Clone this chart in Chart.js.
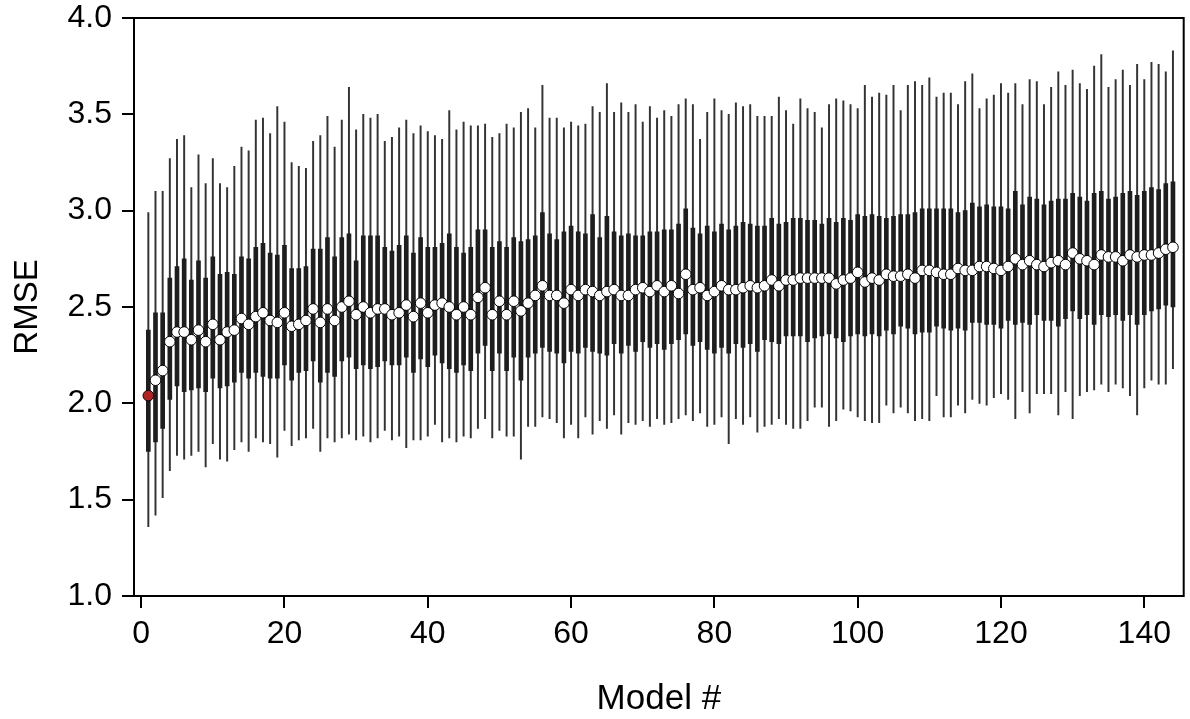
<!DOCTYPE html>
<html>
<head>
<meta charset="utf-8">
<script src="https://cdn.jsdelivr.net/npm/chart.js@4.4.1/dist/chart.umd.min.js"></script>
<style>
html,body{margin:0;padding:0;background:#fff;}
#wrap{width:1190px;height:719px;position:relative;}
</style>
</head>
<body>
<div id="wrap"><canvas id="c" width="1190" height="719"></canvas></div>
<script>
// ---- data ----
const models = Array.from({length:144}, (_, i) => i + 1);
const rmseMax = [
2.99,3.10,3.10,3.27,3.37,3.39,3.12,3.29,3.14,3.27,3.14,3.12,
3.23,3.33,3.31,3.47,3.48,3.40,3.54,3.46,3.25,3.23,3.22,3.36,3.39,
3.49,3.33,3.47,3.64,3.42,3.50,3.48,3.50,3.36,3.38,3.43,3.47,3.40,
3.44,3.41,3.39,3.37,3.52,3.42,3.46,3.44,3.44,3.45,3.38,3.40,3.45,3.43,
3.51,3.53,3.43,3.65,3.48,3.48,3.43,3.46,3.44,3.45,3.54,3.51,3.66,
3.51,3.56,3.51,3.55,3.46,3.54,3.48,3.52,3.49,3.55,3.58,3.55,3.37,
3.51,3.58,3.52,3.50,3.56,3.54,3.55,3.49,3.49,3.49,3.59,3.52,3.45,
3.58,3.53,3.51,3.43,3.55,3.58,3.57,3.55,3.53,3.65,3.59,3.61,3.60,3.65,
3.52,3.65,3.67,3.65,3.69,3.59,3.61,3.61,3.55,3.67,3.71,3.53,3.58,
3.60,3.66,3.61,3.66,3.55,3.68,3.67,3.55,3.64,3.72,3.65,3.73,3.66,
3.63,3.75,3.81,3.64,3.68,3.73,3.65,3.76,3.68,3.77,3.76,3.72,3.83];
const rmseQ3 = [
2.38,2.47,2.47,2.65,2.71,2.75,2.64,2.74,2.65,2.76,2.67,2.68,
2.67,2.76,2.75,2.81,2.83,2.78,2.77,2.82,2.70,2.70,2.71,2.80,2.80,
2.86,2.76,2.86,2.88,2.74,2.87,2.87,2.87,2.81,2.79,2.82,2.87,2.78,
2.86,2.81,2.81,2.83,2.88,2.81,2.78,2.81,2.90,2.90,2.81,2.84,2.81,2.86,
2.84,2.85,2.87,2.99,2.88,2.85,2.89,2.92,2.89,2.88,2.98,2.86,2.97,
2.89,2.87,2.88,2.87,2.87,2.89,2.89,2.90,2.90,2.93,3.01,2.91,2.88,
2.92,2.89,2.93,2.90,2.92,2.94,2.93,2.92,2.92,2.96,2.93,2.94,2.96,
2.96,2.95,2.95,2.93,2.96,2.94,2.96,2.95,2.98,2.97,2.98,2.97,2.96,2.97,
2.98,2.98,2.99,3.01,3.01,3.01,3.01,3.01,2.99,3.00,3.04,3.02,3.03,
3.02,3.02,3.01,3.10,3.03,3.07,3.06,3.03,3.05,3.06,3.06,3.09,3.07,
3.05,3.09,3.10,3.06,3.07,3.09,3.10,3.08,3.10,3.12,3.11,3.14,3.15];
const rmseMedian = [
2.04,2.12,2.17,2.32,2.37,2.37,2.33,2.38,2.32,2.41,2.33,2.37,
2.38,2.44,2.41,2.45,2.47,2.43,2.42,2.47,2.40,2.41,2.43,2.49,2.42,
2.49,2.43,2.50,2.53,2.46,2.50,2.47,2.49,2.49,2.46,2.47,2.51,2.45,
2.52,2.47,2.51,2.52,2.50,2.46,2.50,2.46,2.55,2.60,2.46,2.53,2.46,2.53,
2.48,2.52,2.56,2.61,2.56,2.56,2.52,2.59,2.56,2.59,2.58,2.56,2.58,
2.59,2.56,2.56,2.59,2.60,2.58,2.61,2.58,2.61,2.57,2.67,2.59,2.60,
2.56,2.58,2.61,2.59,2.59,2.60,2.61,2.60,2.61,2.64,2.61,2.64,2.64,
2.65,2.65,2.65,2.65,2.65,2.62,2.64,2.65,2.68,2.63,2.65,2.64,2.67,2.66,
2.66,2.67,2.65,2.69,2.69,2.68,2.67,2.67,2.70,2.69,2.69,2.71,2.71,
2.70,2.69,2.71,2.75,2.72,2.74,2.72,2.71,2.73,2.74,2.72,2.78,2.75,
2.74,2.72,2.77,2.76,2.76,2.74,2.77,2.76,2.77,2.77,2.78,2.80,2.81];
const rmseQ1 = [
1.75,1.80,1.87,2.02,2.09,2.06,2.07,2.08,2.06,2.13,2.08,2.09,
2.11,2.16,2.13,2.16,2.14,2.13,2.13,2.20,2.12,2.16,2.17,2.22,2.11,
2.16,2.14,2.22,2.24,2.18,2.20,2.18,2.19,2.22,2.20,2.20,2.24,2.16,
2.23,2.19,2.25,2.21,2.18,2.16,2.20,2.17,2.26,2.30,2.17,2.26,2.17,2.24,
2.12,2.24,2.26,2.29,2.27,2.26,2.21,2.27,2.26,2.29,2.27,2.26,2.25,
2.31,2.26,2.30,2.27,2.32,2.29,2.31,2.28,2.31,2.33,2.36,2.30,2.32,
2.28,2.26,2.29,2.26,2.31,2.29,2.31,2.27,2.33,2.32,2.31,2.35,2.35,
2.35,2.32,2.34,2.35,2.36,2.34,2.32,2.35,2.36,2.35,2.36,2.35,2.38,2.36,
2.40,2.39,2.36,2.37,2.37,2.40,2.39,2.38,2.39,2.38,2.42,2.42,2.41,
2.41,2.39,2.43,2.41,2.42,2.41,2.46,2.43,2.43,2.40,2.44,2.48,2.44,
2.46,2.41,2.46,2.45,2.46,2.43,2.46,2.41,2.46,2.48,2.49,2.51,2.50];
const rmseMin = [
1.36,1.42,1.51,1.65,1.73,1.71,1.73,1.75,1.67,1.79,1.71,1.70,
1.76,1.80,1.75,1.82,1.80,1.79,1.72,1.86,1.78,1.81,1.82,1.87,1.75,
1.82,1.80,1.82,1.84,1.81,1.83,1.80,1.82,1.86,1.81,1.83,1.77,1.81,
1.81,1.83,1.89,1.80,1.82,1.80,1.83,1.82,1.87,1.92,1.82,1.86,1.83,1.83,
1.71,1.88,1.88,1.93,1.92,1.90,1.82,1.89,1.82,1.93,1.84,1.91,1.87,
1.94,1.84,1.90,1.89,1.91,1.88,1.92,1.89,1.90,1.92,1.94,1.91,1.95,
1.88,1.89,1.93,1.79,1.92,1.89,1.93,1.85,1.88,1.89,1.92,1.89,1.87,
1.87,1.91,1.98,1.98,1.88,1.91,1.97,1.96,1.93,1.91,1.90,1.90,1.99,1.95,
1.98,1.95,1.91,1.92,1.91,2.04,1.93,1.93,1.99,1.95,2.02,2.00,1.99,
2.03,2.05,2.02,1.92,2.06,1.95,2.05,2.05,2.05,1.94,2.06,1.92,2.04,
2.06,2.07,2.10,2.06,2.10,2.08,2.04,1.94,2.08,2.12,2.10,2.10,2.18];
const xTickValues = [0, 20, 40, 60, 80, 100, 120, 140];
const yTickValues = [1.0, 1.5, 2.0, 2.5, 3.0, 3.5, 4.0];
const bestModel = 1;

// ---- chart ----
const FONT = "'Liberation Sans', Helvetica, Arial, sans-serif";
const boxPlugin = {
  id: 'box',
  afterDatasetsDraw(chart) {
    const {ctx, chartArea: a} = chart;
    ctx.save();
    ctx.strokeStyle = '#000';
    ctx.lineWidth = 2;
    ctx.strokeRect(a.left, a.top, a.right - a.left, a.bottom - a.top);
    ctx.restore();
  }
};

new Chart(document.getElementById('c'), {
  type: 'bar',
  data: {
    datasets: [
      {
        type: 'scatter',
        label: 'median',
        data: models.map((m, i) => ({x: m, y: rmseMedian[i]})),
        pointRadius: 5.3,
        pointHoverRadius: 5.3,
        pointBorderWidth: 1,
        pointBorderColor: '#000',
        pointBackgroundColor: models.map(m => m === bestModel ? '#b22222' : '#ffffff'),
        showLine: false,
        order: 0
      },
      {
        label: 'iqr',
        data: models.map((m, i) => ({x: m, y: [rmseQ1[i], rmseQ3[i]]})),
        backgroundColor: '#1e1e1e',
        borderWidth: 0,
        barThickness: 4,
        grouped: false,
        order: 1
      },
      {
        label: 'range',
        data: models.map((m, i) => ({x: m, y: [rmseMin[i], rmseMax[i]]})),
        backgroundColor: '#333333',
        borderWidth: 0,
        barThickness: 1.3,
        grouped: false,
        order: 2
      }
    ]
  },
  options: {
    responsive: false,
    animation: false,
    events: [],
    layout: {padding: {left: 0, right: 3, top: 18, bottom: 0}},
    plugins: {legend: {display: false}, tooltip: {enabled: false}},
    scales: {
      x: {
        type: 'linear',
        min: -1,
        max: 145.5,
        offset: false,
        afterBuildTicks: s => { s.ticks = xTickValues.map(v => ({value: v})); },
        afterFit: s => { s.height = 123; s.paddingLeft = 0; s.paddingRight = 0; },
        grid: {offset: false, drawOnChartArea: false, drawTicks: true, tickLength: 12, color: '#000', lineWidth: 2},
        border: {display: false},
        ticks: {
          color: '#000', padding: 10, maxRotation: 0, autoSkip: false,
          font: {family: FONT, size: 32, lineHeight: 1},
          callback: v => String(v)
        },
        title: {
          display: true, text: 'Model #', color: '#000',
          font: {family: FONT, size: 35, lineHeight: 1},
          padding: {top: 0, bottom: 2}
        }
      },
      y: {
        type: 'linear',
        min: 1,
        max: 4,
        afterBuildTicks: s => { s.ticks = yTickValues.map(v => ({value: v})); },
        afterFit: s => { s.width = 134; s.paddingTop = 0; s.paddingBottom = 0; },
        grid: {offset: false, drawOnChartArea: false, drawTicks: true, tickLength: 12, color: '#000', lineWidth: 2},
        border: {display: false},
        ticks: {
          color: '#000', padding: 10, autoSkip: false,
          font: {family: FONT, size: 32, lineHeight: 1},
          callback: v => Number(v).toFixed(1)
        },
        title: {
          display: true, text: 'RMSE', color: '#000',
          font: {family: FONT, size: 33, lineHeight: 1},
          padding: {top: 11, bottom: 0}
        }
      }
    }
  },
  plugins: [boxPlugin]
});
</script>
</body>
</html>
